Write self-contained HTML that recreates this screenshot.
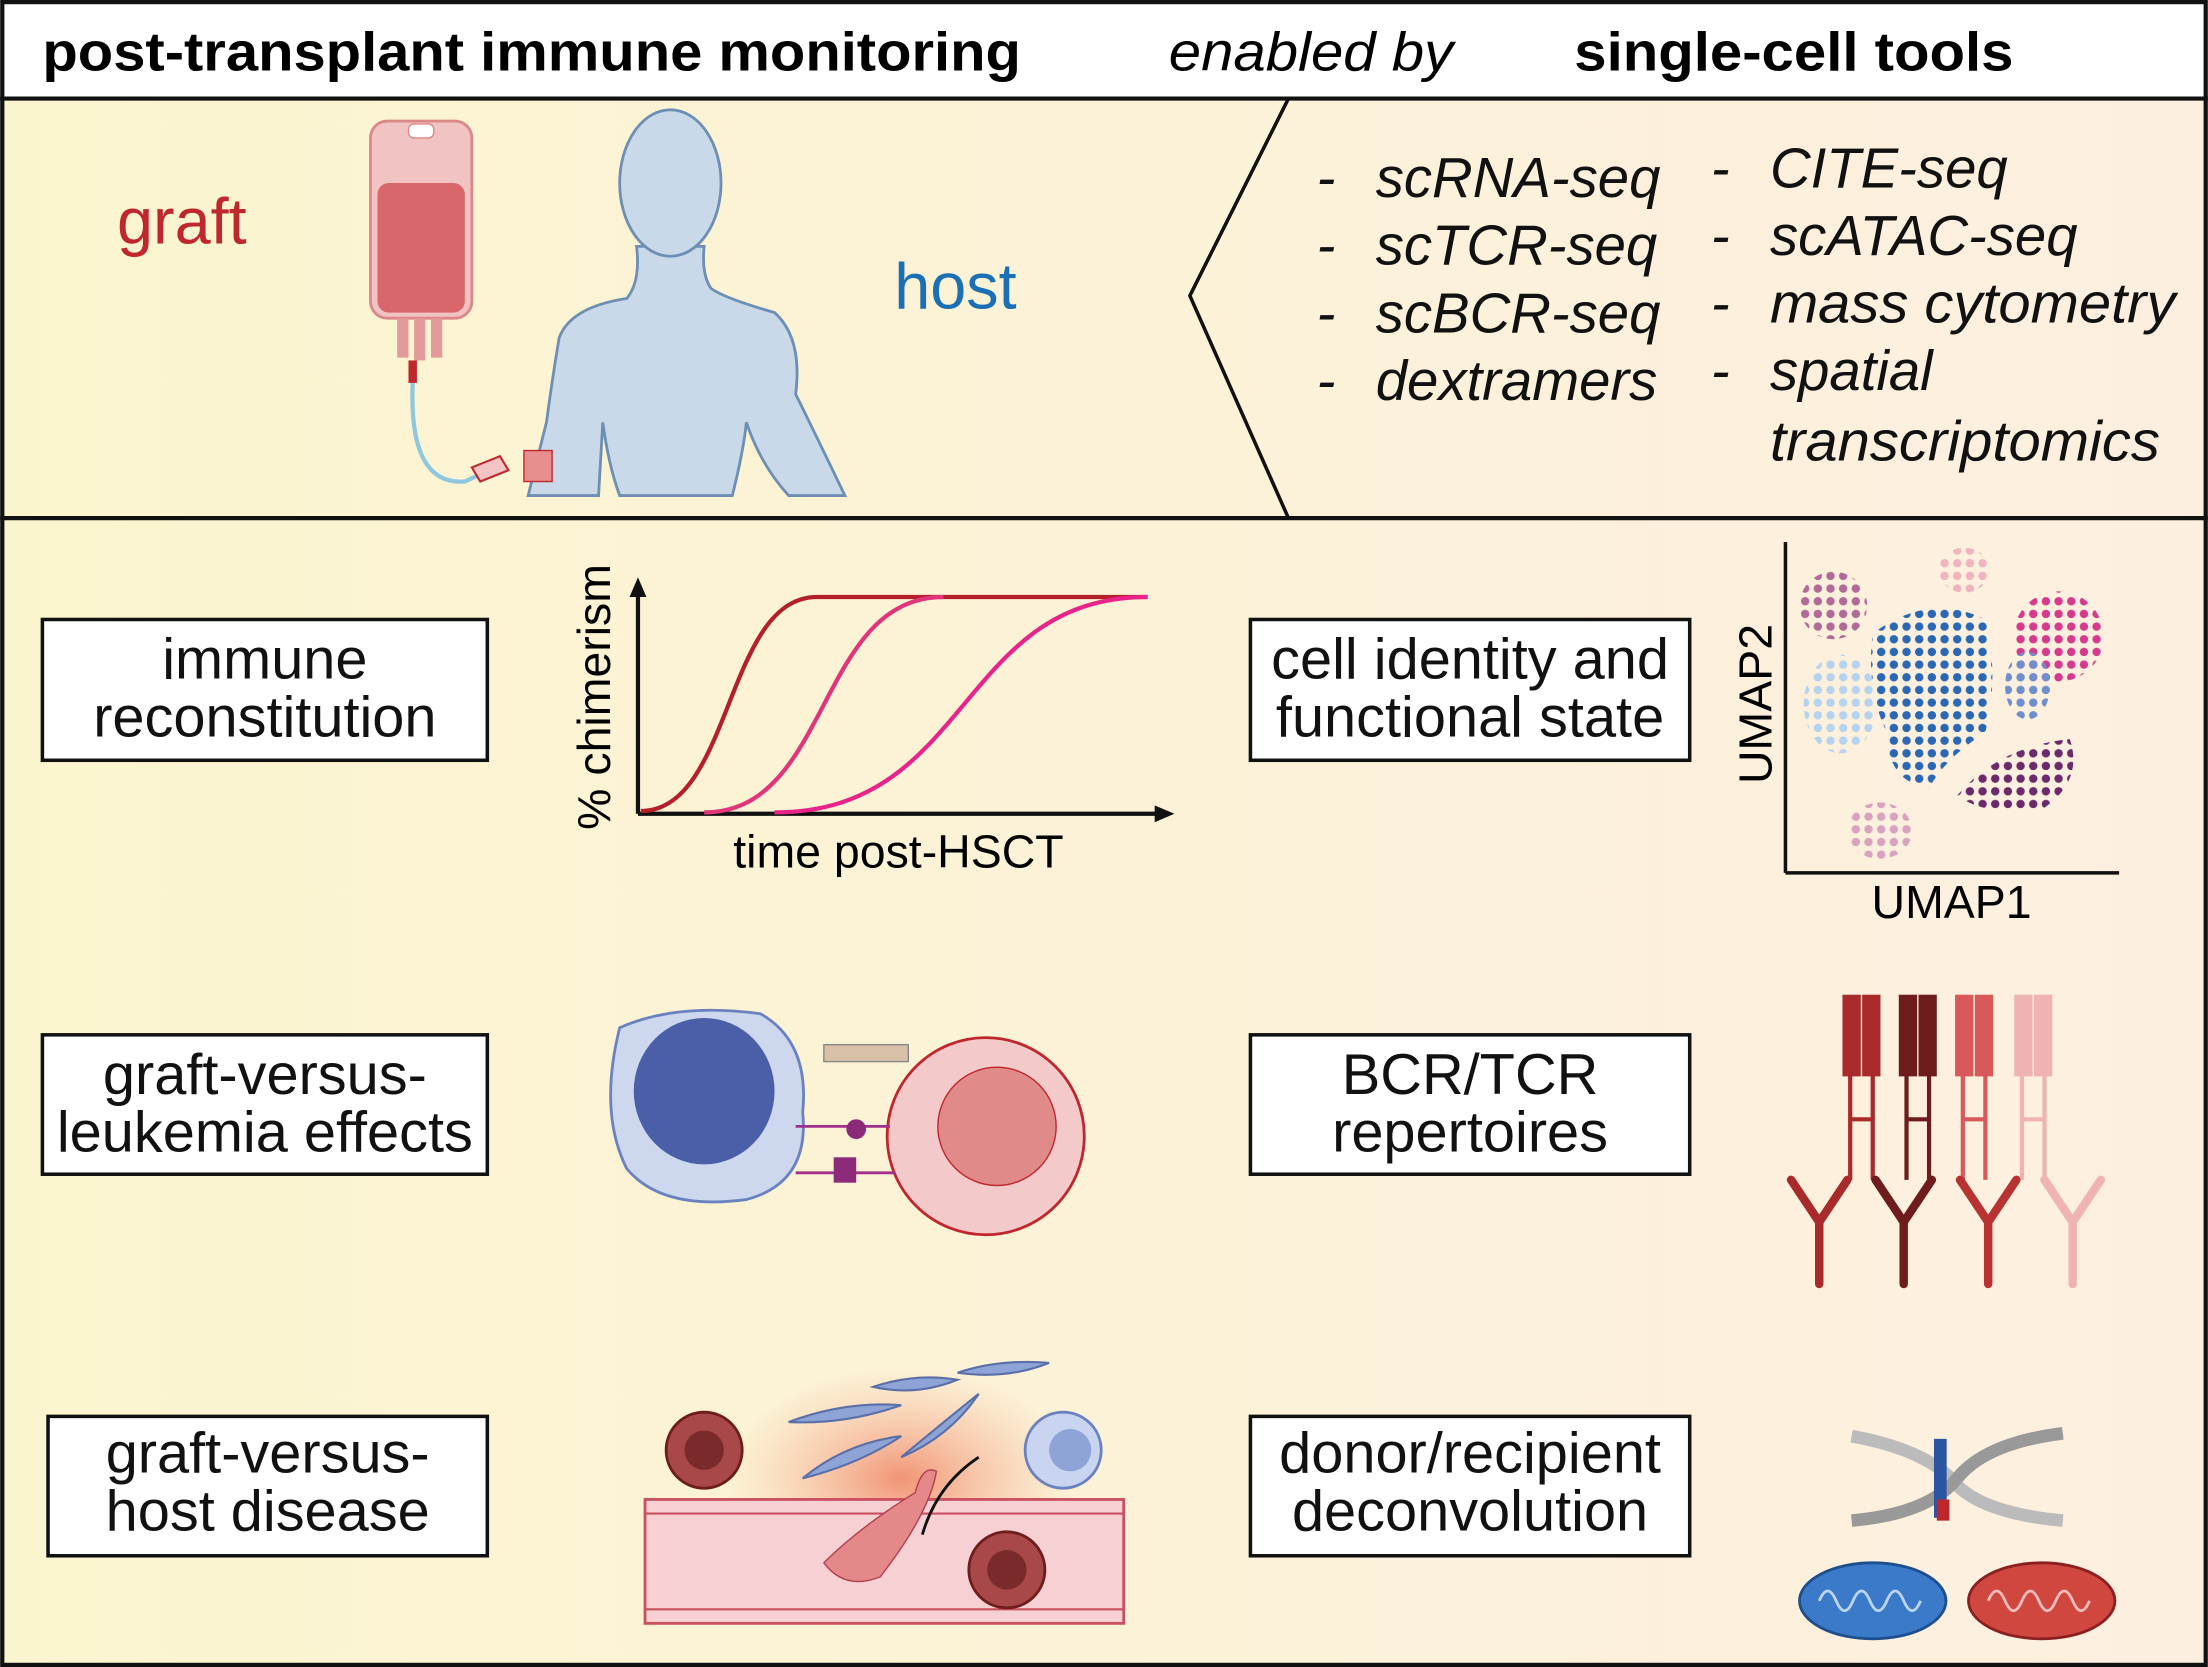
<!DOCTYPE html>
<html><head><meta charset="utf-8"><style>
html,body{margin:0;padding:0;background:#fff}
svg{display:block}
text{font-family:"Liberation Sans",Arial,sans-serif}
</style></head><body>
<svg width="2208" height="1667" viewBox="0 0 1568 1184" xmlns="http://www.w3.org/2000/svg">
<defs>
<linearGradient id="bg" x1="0" x2="1" y1="0" y2="0">
<stop offset="0" stop-color="#fbf5cf"/><stop offset="1" stop-color="#fdefe0"/></linearGradient>
<radialGradient id="glow" cx="0.5" cy="0.5" r="0.5">
<stop offset="0" stop-color="#f08a6a" stop-opacity="0.9"/><stop offset="1" stop-color="#f7b49a" stop-opacity="0"/></radialGradient>
<pattern id="p1" width="9" height="9" patternUnits="userSpaceOnUse"><circle cx="4" cy="4" r="3" fill="#2a67b4"/></pattern>
<pattern id="p2" width="9" height="9" patternUnits="userSpaceOnUse"><circle cx="4" cy="4" r="3" fill="#b5d3ee"/></pattern>
<pattern id="p3" width="9" height="9" patternUnits="userSpaceOnUse"><circle cx="4" cy="4" r="3" fill="#b06a97"/></pattern>
<pattern id="p4" width="9" height="9" patternUnits="userSpaceOnUse"><circle cx="4" cy="4" r="3" fill="#d63a8c"/></pattern>
<pattern id="p5" width="9" height="9" patternUnits="userSpaceOnUse"><circle cx="4" cy="4" r="3" fill="#6b2a6b"/></pattern>
<pattern id="p6" width="9" height="9" patternUnits="userSpaceOnUse"><circle cx="4" cy="4" r="3" fill="#d9a3c0"/></pattern>
<pattern id="p7" width="9" height="9" patternUnits="userSpaceOnUse"><circle cx="4" cy="4" r="3" fill="#f0b3bf"/></pattern>
<pattern id="p8" width="9" height="9" patternUnits="userSpaceOnUse"><circle cx="4" cy="4" r="3" fill="#6f8fcc"/></pattern>
</defs>
<rect x="0" y="0" width="1568" height="1184" fill="#fff"/>
<rect x="0" y="70" width="1568" height="1114" fill="url(#bg)"/>
<!-- header -->
<text x="30" y="50" font-size="39" font-weight="bold" textLength="695" lengthAdjust="spacingAndGlyphs">post-transplant immune monitoring</text>
<text x="830" y="50" font-size="39" font-style="italic" textLength="202" lengthAdjust="spacingAndGlyphs">enabled by</text>
<text x="1118" y="50" font-size="39" font-weight="bold" textLength="312" lengthAdjust="spacingAndGlyphs">single-cell tools</text>
<line x1="0" y1="70" x2="1568" y2="70" stroke="#111" stroke-width="3"/>
<line x1="0" y1="368" x2="1568" y2="368" stroke="#111" stroke-width="3"/>
<polyline points="915,70 845,210 915,368" fill="none" stroke="#111" stroke-width="2.5"/>
<rect x="1.5" y="1.5" width="1565" height="1181" fill="none" stroke="#111" stroke-width="3"/>
<!-- top panel -->
<text x="83" y="173" font-size="46" fill="#c0272d">graft</text>
<text x="635" y="219" font-size="46" fill="#1a6fb5">host</text>
<!-- IV bag -->
<rect x="263" y="86" width="72" height="140" rx="12" fill="#f1c3c3" stroke="#d88" stroke-width="2"/>
<rect x="268" y="130" width="62" height="92" rx="8" fill="#d9666a"/>
<rect x="290" y="88" width="18" height="10" rx="4" fill="#fff" stroke="#d88"/>
<rect x="282" y="226" width="8" height="28" fill="#e29a9a"/>
<rect x="294" y="226" width="8" height="30" fill="#e29a9a"/>
<rect x="306" y="226" width="8" height="28" fill="#e29a9a"/>
<rect x="290" y="256" width="6" height="16" fill="#c0272d"/>
<path d="M293 272 Q290 345 330 342 L345 335" fill="none" stroke="#8fc7df" stroke-width="3"/>
<path d="M335 332 l20 -8 l6 10 l-20 8z" fill="#f4c4c4" stroke="#c0272d" stroke-width="1.5"/>
<!-- person -->
<path d="M452 175 Q455 200 445 212 Q405 218 397 240 Q392 270 388 300 L375 352 L425 352 L428 300 Q432 330 440 352 L520 352 Q528 320 530 300 Q540 330 560 352 L600 352 Q575 300 565 280 Q570 240 550 222 Q515 212 505 205 Q498 195 500 175 Z" fill="#c9d9ea" stroke="#6d8fb3" stroke-width="2"/>
<ellipse cx="476" cy="130" rx="36" ry="52" fill="#c9d9ea" stroke="#6d8fb3" stroke-width="2"/>
<rect x="372" y="320" width="20" height="22" fill="#e78f8f" stroke="#c0272d"/>
<!-- tools -->
<g font-size="40" font-style="italic" fill="#111">
<text x="935" y="140">-</text><text x="977" y="140">scRNA-seq</text>
<text x="935" y="188">-</text><text x="977" y="188">scTCR-seq</text>
<text x="935" y="236">-</text><text x="977" y="236">scBCR-seq</text>
<text x="935" y="284">-</text><text x="977" y="284">dextramers</text>
<text x="1215" y="133">-</text><text x="1257" y="133">CITE-seq</text>
<text x="1215" y="181">-</text><text x="1257" y="181">scATAC-seq</text>
<text x="1215" y="229">-</text><text x="1257" y="229" textLength="288" lengthAdjust="spacingAndGlyphs">mass cytometry</text>
<text x="1215" y="277">-</text><text x="1257" y="277">spatial</text>
<text x="1257" y="327" textLength="277" lengthAdjust="spacingAndGlyphs">transcriptomics</text>
</g>
<!-- boxes -->
<g fill="#fff" stroke="#111" stroke-width="2.5">
<rect x="30" y="440" width="316" height="100"/>
<rect x="30" y="735" width="316" height="99"/>
<rect x="34" y="1006" width="312" height="99"/>
<rect x="888" y="440" width="312" height="100"/>
<rect x="888" y="735" width="312" height="99"/>
<rect x="888" y="1006" width="312" height="99"/>
</g>
<g font-size="41" text-anchor="middle" fill="#111">
<text x="188" y="482">immune</text><text x="188" y="523">reconstitution</text>
<text x="188" y="777">graft-versus-</text><text x="188" y="818">leukemia effects</text>
<text x="190" y="1046">graft-versus-</text><text x="190" y="1087">host disease</text>
<text x="1044" y="482">cell identity and</text><text x="1044" y="523">functional state</text>
<text x="1044" y="777">BCR/TCR</text><text x="1044" y="818">repertoires</text>
<text x="1044" y="1046">donor/recipient</text><text x="1044" y="1087">deconvolution</text>
</g>
<!-- chart -->
<line x1="453" y1="578" x2="453" y2="420" stroke="#111" stroke-width="3"/>
<path d="M453 410 l-6 14 h12z" fill="#111"/>
<line x1="453" y1="578" x2="822" y2="578" stroke="#111" stroke-width="3"/>
<path d="M834 578 l-14 -6 v12z" fill="#111"/>
<path d="M455 576 C520 576 515 424 580 424 L815 424" fill="none" stroke="#b3202a" stroke-width="3"/>
<path d="M500 577 C590 577 580 424 670 424" fill="none" stroke="#e0357a" stroke-width="3"/>
<path d="M550 577 C690 577 680 424 815 424" fill="none" stroke="#e8248a" stroke-width="3"/>
<text x="433" y="495" font-size="33" transform="rotate(-90 433 495)" text-anchor="middle">% chimerism</text>
<text x="638" y="616" font-size="33" text-anchor="middle">time post-HSCT</text>
<!-- UMAP -->
<line x1="1268" y1="385" x2="1268" y2="620" stroke="#111" stroke-width="2.5"/>
<line x1="1268" y1="620" x2="1505" y2="620" stroke="#111" stroke-width="2.5"/>
<text x="1258" y="500" font-size="33" transform="rotate(-90 1258 500)" text-anchor="middle">UMAP2</text>
<text x="1386" y="652" font-size="33" text-anchor="middle">UMAP1</text>
<ellipse cx="1302" cy="430" rx="24" ry="24" fill="url(#p3)"/>
<ellipse cx="1395" cy="405" rx="18" ry="16" fill="url(#p7)"/>
<ellipse cx="1462" cy="452" rx="32" ry="32" fill="url(#p4)"/>
<ellipse cx="1307" cy="500" rx="26" ry="35" fill="url(#p2)"/>
<path d="M1330 450 Q1370 420 1410 440 Q1420 480 1410 520 Q1380 540 1370 560 Q1340 555 1340 520 Q1325 490 1330 450Z" fill="url(#p1)"/>
<ellipse cx="1440" cy="487" rx="16" ry="24" fill="url(#p8)"/>
<path d="M1390 565 Q1420 530 1470 525 Q1480 555 1450 575 Q1410 580 1390 565Z" fill="url(#p5)"/>
<ellipse cx="1335" cy="590" rx="23" ry="20" fill="url(#p6)"/>
<!-- GvL cells -->
<path d="M440 730 Q480 712 540 720 Q575 740 570 790 Q575 840 530 852 Q470 860 445 830 Q425 790 440 730Z" fill="#cdd8ee" stroke="#6b82c0" stroke-width="2"/>
<ellipse cx="500" cy="775" rx="50" ry="52" fill="#4a5fa8"/>
<circle cx="700" cy="807" r="70" fill="#f4c9c9" stroke="#c0272d" stroke-width="2"/>
<circle cx="708" cy="800" r="42" fill="#e08a8a" stroke="#c0272d" stroke-width="1"/>
<rect x="585" y="742" width="60" height="12" fill="#d9c0a8" stroke="#888"/>
<line x1="565" y1="800" x2="632" y2="800" stroke="#a0308a" stroke-width="2"/>
<line x1="565" y1="833" x2="636" y2="833" stroke="#a0308a" stroke-width="2"/>
<circle cx="608" cy="802" r="7" fill="#8a2a78"/>
<rect x="592" y="822" width="16" height="18" fill="#8a2a78"/>
<!-- BCR/TCR -->
<g stroke-width="3" fill="none">
<g stroke="#a82a2a"><rect x="1310" y="708" width="10" height="55" fill="#a82a2a"/><rect x="1324" y="708" width="10" height="55" fill="#a82a2a"/><path d="M1314 763 v75 M1330 763 v75 M1314 795 h16"/></g>
<g stroke="#6e1c1c"><rect x="1350" y="708" width="10" height="55" fill="#6e1c1c"/><rect x="1364" y="708" width="10" height="55" fill="#6e1c1c"/><path d="M1354 763 v75 M1370 763 v75 M1354 795 h16"/></g>
<g stroke="#d9595a"><rect x="1390" y="708" width="10" height="55" fill="#d9595a"/><rect x="1404" y="708" width="10" height="55" fill="#d9595a"/><path d="M1394 763 v75 M1410 763 v75 M1394 795 h16"/></g>
<g stroke="#f0b3b3"><rect x="1432" y="708" width="10" height="55" fill="#f0b3b3"/><rect x="1446" y="708" width="10" height="55" fill="#f0b3b3"/><path d="M1436 763 v75 M1452 763 v75 M1436 795 h16"/></g>
</g>
<g stroke-width="6" fill="none" stroke-linecap="round">
<path d="M1272 838 L1292 868 L1312 838 M1292 868 V912" stroke="#a82a2a"/>
<path d="M1332 838 L1352 868 L1372 838 M1352 868 V912" stroke="#6e1c1c"/>
<path d="M1392 838 L1412 868 L1432 838 M1412 868 V912" stroke="#b83232"/>
<path d="M1452 838 L1472 868 L1492 838 M1472 868 V912" stroke="#f0b3b3"/>
</g>
<!-- GvHD -->
<ellipse cx="640" cy="1050" rx="125" ry="80" fill="url(#glow)"/>
<rect x="458" y="1065" width="340" height="88" fill="#f7d0d3" stroke="#c85060" stroke-width="2"/>
<line x1="458" y1="1075" x2="798" y2="1075" stroke="#c85060" stroke-width="1.5"/>
<line x1="458" y1="1143" x2="798" y2="1143" stroke="#c85060" stroke-width="1.5"/>
<g fill="#8ea3d6" stroke="#5a6fa8" stroke-width="1.5">
<path d="M560 1010 Q600 995 640 998 Q600 1012 560 1010Z"/>
<path d="M570 1050 Q600 1025 640 1020 Q610 1040 570 1050Z"/>
<path d="M640 1035 Q670 1010 695 990 Q675 1020 640 1035Z"/>
<path d="M680 975 Q710 965 745 968 Q715 980 680 975Z"/>
<path d="M620 985 Q650 975 680 980 Q650 992 620 985Z"/>
</g>
<circle cx="500" cy="1030" r="27" fill="#a84848" stroke="#6e1c1c" stroke-width="2"/>
<circle cx="500" cy="1030" r="14" fill="#7a2a2a"/>
<circle cx="755" cy="1030" r="27" fill="#c9d4f0" stroke="#6b82c0" stroke-width="2"/>
<circle cx="760" cy="1030" r="15" fill="#8ea3d6"/>
<circle cx="715" cy="1115" r="27" fill="#a84848" stroke="#6e1c1c" stroke-width="2"/>
<circle cx="715" cy="1115" r="14" fill="#7a2a2a"/>
<path d="M585 1110 Q610 1085 650 1060 Q655 1040 665 1045 Q660 1075 625 1120 Q600 1130 585 1110Z" fill="#e5888a" stroke="#b04050"/>
<path d="M655 1090 Q665 1055 695 1035" fill="none" stroke="#111" stroke-width="2"/>
<!-- DNA -->
<g fill="none" stroke-width="9">
<path d="M1315 1020 Q1370 1030 1390 1055 Q1410 1075 1465 1080" stroke="#bbb"/>
<path d="M1315 1080 Q1370 1075 1390 1050 Q1410 1025 1465 1018" stroke="#999"/>
<path d="M1378 1022 V1078" stroke="#2a55a0"/>
<path d="M1380 1065 V1080" stroke="#c0272d"/>
</g>
<ellipse cx="1330" cy="1137" rx="52" ry="27" fill="#3a7ac8" stroke="#1d4f8f" stroke-width="2"/>
<ellipse cx="1450" cy="1137" rx="52" ry="27" fill="#d0473f" stroke="#8a2020" stroke-width="2"/>
<path d="M1292 1137 q6 -14 12 0 q6 14 12 0 q6 -14 12 0 q6 14 12 0 q6 -14 12 0 q6 14 12 0" fill="none" stroke="#bcd4f0" stroke-width="2"/>
<path d="M1412 1137 q6 -14 12 0 q6 14 12 0 q6 -14 12 0 q6 14 12 0 q6 -14 12 0 q6 14 12 0" fill="none" stroke="#f4bcbc" stroke-width="2"/>
</svg>
</body></html>
